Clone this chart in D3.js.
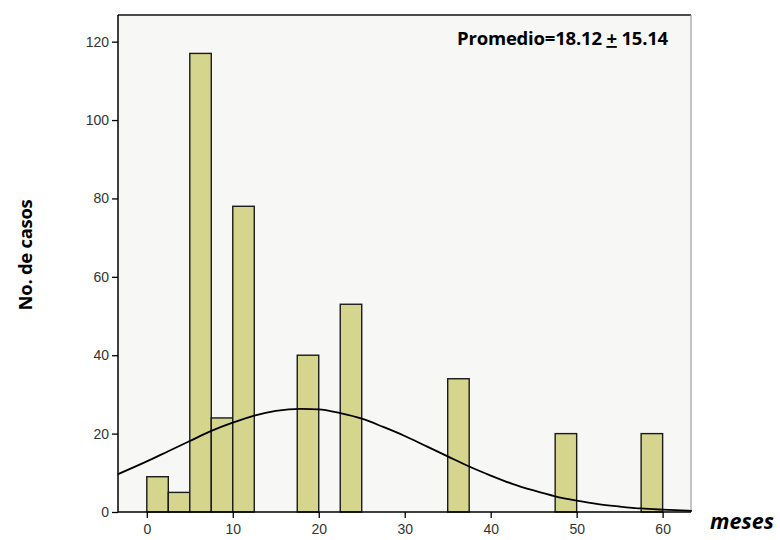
<!DOCTYPE html>
<html>
<head>
<meta charset="utf-8">
<script src="https://cdn.jsdelivr.net/npm/d3@7"></script>
<style>
	body { margin: 0; background: #ffffff; }
	svg { display: block; }
	.tick text { font-family: "Liberation Sans", Arial, sans-serif; font-size: 14px; fill: #333333; }
	.tick line { stroke: #000000; stroke-width: 1.3; }
	.domain { display: none; }
</style>
</head>
<body>
<svg id="chart" width="780" height="540"></svg>
<script>
// histogram bins (meses), width 2.5
const binStarts = [0, 2.5, 5, 7.5, 10, 17.5, 22.5, 35, 47.5, 57.5];
const binCounts = [9, 5, 117, 24, 78, 40, 53, 34, 20, 20];
const binWidth = 2.5;

// fitted normal curve
const curveX = [-3.4, 0, 2.5, 5, 7.5, 10, 12.5, 15, 18, 20, 22.5, 25, 27.5, 30, 32.5, 35, 37.5, 40, 42.5, 45, 47.5, 50, 52.5, 55, 57.5, 60, 63.4];
const curveY = [9.6, 12.9, 15.5, 18.1, 20.7, 22.8, 24.6, 25.8, 26.3, 26.2, 25.2, 23.8, 21.7, 19.4, 16.8, 14.2, 11.6, 9.3, 7.2, 5.5, 4.0, 2.9, 2.0, 1.4, 0.9, 0.6, 0.3];

const xTicks = [0, 10, 20, 30, 40, 50, 60];
const yTicks = [0, 20, 40, 60, 80, 100, 120];

const statLabel = ["Promedio=18.12 ", "+", " 15.14"];
const xTitle = "meses";
const yTitle = "No. de casos";

function whenDocumentLoaded(action) {
	if (document.readyState === "loading") {
		document.addEventListener("DOMContentLoaded", action);
	} else {
		action();
	}
}

whenDocumentLoaded(() => {
	const svg = d3.select("#chart");

	const left = 118, right = 691, top = 15, bottom = 512;

	const scaleX = d3.scaleLinear()
		.domain([-3.35, 63.3])
		.range([left, right]);

	const scaleY = d3.scaleLinear()
		.domain([0, 126.8])
		.range([bottom, top]);

	// plot background
	svg.append("rect")
		.attr("x", left)
		.attr("y", top)
		.attr("width", right - left)
		.attr("height", bottom - top)
		.attr("fill", "#f7f7f6");

	// frame: dark top, light right
	svg.append("line")
		.attr("x1", left).attr("x2", right)
		.attr("y1", top).attr("y2", top)
		.attr("stroke", "#111111").attr("stroke-width", 1.5);
	svg.append("line")
		.attr("x1", right).attr("x2", right)
		.attr("y1", top).attr("y2", bottom)
		.attr("stroke", "#a0a0a0").attr("stroke-width", 1.2);

	// bars
	svg.append("g")
		.selectAll("rect")
		.data(binStarts)
		.enter()
		.append("rect")
		.attr("x", d => scaleX(d))
		.attr("y", (d, i) => scaleY(binCounts[i]))
		.attr("width", d => scaleX(d + binWidth) - scaleX(d))
		.attr("height", (d, i) => scaleY(0) - scaleY(binCounts[i]))
		.attr("fill", "#d6d58e")
		.attr("stroke", "#1a1a1a")
		.attr("stroke-width", 1.4);

	// normal curve
	const line = d3.line()
		.curve(d3.curveMonotoneX)
		.x((d, i) => scaleX(curveX[i]))
		.y(d => scaleY(d));

	svg.append("path")
		.datum(curveY)
		.attr("d", line)
		.attr("fill", "none")
		.attr("stroke", "#000000")
		.attr("stroke-width", 1.8);

	// axes
	svg.append("g")
		.attr("transform", `translate(0,${bottom})`)
		.call(d3.axisBottom(scaleX).tickValues(xTicks).tickSize(6).tickPadding(6));

	svg.append("g")
		.attr("transform", `translate(${left},0)`)
		.call(d3.axisLeft(scaleY).tickValues(yTicks).tickSize(6).tickPadding(3));

	svg.append("line")
		.attr("x1", left).attr("x2", right)
		.attr("y1", bottom).attr("y2", bottom)
		.attr("stroke", "#000000").attr("stroke-width", 1.5);
	svg.append("line")
		.attr("x1", left).attr("x2", left)
		.attr("y1", top).attr("y2", bottom)
		.attr("stroke", "#000000").attr("stroke-width", 1.5);

	// annotation
	const stat = svg.append("text")
		.attr("x", 668)
		.attr("y", 45)
		.attr("text-anchor", "end")
		.attr("font-family", "'Open Sans', 'Noto Sans', sans-serif")
		.attr("font-weight", "bold")
		.attr("font-size", 18.5)
		.attr("letter-spacing", -0.2)
		.attr("fill", "#000000");
	stat.selectAll("tspan")
		.data(statLabel)
		.enter()
		.append("tspan")
		.attr("text-decoration", (d, i) => i === 1 ? "underline" : null)
		.text(d => d);

	// axis titles
	svg.append("text")
		.attr("x", 742)
		.attr("y", 529)
		.attr("text-anchor", "middle")
		.attr("font-family", "'Open Sans', 'Noto Sans', sans-serif")
		.attr("font-weight", "bold")
		.attr("font-style", "italic")
		.attr("font-size", 21.5)
		.text(xTitle);

	svg.append("text")
		.attr("transform", "translate(32,255) rotate(-90)")
		.attr("text-anchor", "middle")
		.attr("font-family", "'Open Sans', 'Noto Sans', sans-serif")
		.attr("font-weight", "bold")
		.attr("font-size", 18.5)
		.attr("letter-spacing", -0.3)
		.text(yTitle);
});
</script>
</body>
</html>
